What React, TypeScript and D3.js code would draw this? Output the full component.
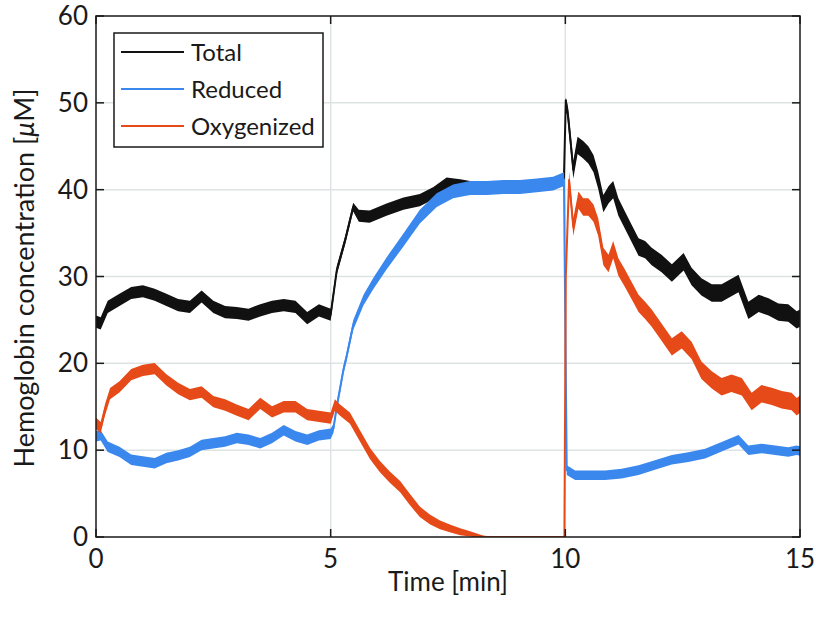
import React from "react";
import * as d3 from "d3";

// ---- data ----
const xTicks = [0, 5, 10, 15];
const yTicks = [0, 10, 20, 30, 40, 50, 60];

const totalTime = [
  0, 0.1, 0.25, 0.5, 0.75, 1, 1.25, 1.5, 1.75, 2, 2.25, 2.5, 2.75, 3, 3.25, 3.5, 3.75, 4, 4.25, 4.5, 4.75, 5,
  5.13, 5.31, 5.48, 5.6, 5.83, 6.19, 6.55, 6.9, 7.19, 7.47, 7.76, 7.97, 8.33, 8.68, 9.03, 9.39, 9.74, 9.92, 9.97,
  10.01, 10.06, 10.17, 10.26, 10.38, 10.49, 10.6, 10.7, 10.81, 10.92, 11.02, 11.13, 11.27, 11.41, 11.56, 11.7, 11.84,
  12.05, 12.27, 12.52, 12.69, 12.9, 13.12, 13.33, 13.69, 13.9, 14.12, 14.33, 14.54, 14.75, 14.93, 15,
];
const totalValue = [
  24.8, 24.6, 26.5, 27.3, 28.1, 28.3, 27.9, 27.3, 26.7, 26.5, 27.7, 26.5, 25.9, 25.8, 25.6, 26.1, 26.5, 26.7, 26.5, 25.2, 26.1, 25.6,
  30.7, 34.2, 38.0, 37.0, 36.9, 37.7, 38.4, 38.8, 39.6, 40.7, 40.5, 40.3, 40.2, 40.3, 40.3, 40.5, 40.7, 41.1, 41.2,
  50.3, 48.4, 42.3, 45.1, 44.6, 44.0, 43.0, 41.1, 38.4, 39.4, 40.0, 38.0, 36.5, 35.0, 33.4, 33.1, 32.3,
  31.5, 30.4, 31.7, 30.0, 28.8, 28.1, 28.1, 29.2, 26.1, 26.9, 26.5, 25.9, 25.8, 25.0, 25.2,
];
// half-width of the noise band (µM)
const totalSpread = [
  0.7, 0.7, 0.7, 0.7, 0.7, 0.7, 0.7, 0.7, 0.7, 0.7, 0.7, 0.7, 0.7, 0.7, 0.7, 0.7, 0.7, 0.7, 0.7, 0.7, 0.7, 0.7,
  0.5, 0.5, 0.5, 0.7, 0.7, 0.7, 0.7, 0.7, 0.7, 0.7, 0.7, 0.7, 0.7, 0.7, 0.7, 0.7, 0.7, 0.7, 0.7,
  0.3, 1.0, 1.0, 1.0, 1.0, 1.0, 1.0, 1.0, 1.0, 1.0, 1.0, 1.0, 1.0, 1.0, 1.0, 1.0, 1.0,
  1.0, 1.0, 1.0, 1.0, 1.0, 1.0, 1.0, 1.0, 1.0, 1.0, 1.0, 1.0, 1.0, 1.0, 1.0,
];

const reducedTime = [
  0, 0.1, 0.25, 0.5, 0.75, 1, 1.25, 1.5, 1.75, 2, 2.25, 2.5, 2.75, 3, 3.25, 3.5, 3.75, 4, 4.25, 4.5, 4.75, 5,
  5.06, 5.13, 5.27, 5.34, 5.48, 5.7, 5.91, 6.19, 6.55, 6.9, 7.26, 7.61, 7.97, 8.33, 8.68, 9.03, 9.39, 9.74, 9.92, 9.97,
  10.03, 10.21, 10.49, 10.85, 11.2, 11.56, 11.91, 12.27, 12.62, 12.98, 13.33, 13.69, 13.9, 14.18, 14.47, 14.75, 14.93, 15,
];
const reducedValue = [
  11.6, 11.7, 10.4, 9.8, 8.9, 8.7, 8.5, 9.1, 9.4, 9.8, 10.6, 10.8, 11.0, 11.4, 11.2, 10.8, 11.4, 12.3, 11.6, 11.2, 11.7, 11.9,
  12.5, 15.0, 19.2, 20.8, 24.4, 27.3, 29.2, 31.5, 34.2, 36.9, 38.8, 39.8, 40.2, 40.2, 40.3, 40.3, 40.5, 40.7, 41.1, 41.2,
  7.7, 7.1, 7.1, 7.1, 7.3, 7.7, 8.3, 8.9, 9.2, 9.6, 10.4, 11.2, 10.0, 10.2, 10.0, 9.8, 10.0, 9.9,
];
const reducedSpread = [
  0.6, 0.6, 0.6, 0.6, 0.6, 0.6, 0.6, 0.6, 0.6, 0.6, 0.6, 0.6, 0.6, 0.6, 0.6, 0.6, 0.6, 0.6, 0.6, 0.6, 0.6, 0.6,
  0.5, 0.5, 0.5, 0.5, 0.55, 0.6, 0.65, 0.7, 0.75, 0.8, 0.8, 0.8, 0.8, 0.8, 0.8, 0.8, 0.8, 0.8, 0.8, 0.8,
  0.55, 0.55, 0.55, 0.55, 0.55, 0.55, 0.55, 0.55, 0.55, 0.55, 0.55, 0.55, 0.55, 0.55, 0.55, 0.55, 0.55, 0.55,
];

const oxyTime = [
  0, 0.1, 0.19, 0.3, 0.5, 0.75, 1, 1.25, 1.5, 1.75, 2, 2.25, 2.5, 2.75, 3, 3.25, 3.5, 3.75, 4, 4.25, 4.5, 4.75, 5,
  5.09, 5.2, 5.41, 5.63, 5.84, 6.05, 6.26, 6.48, 6.69, 6.9, 7.12, 7.33, 7.54, 7.76, 7.97, 8.18, 8.33, 9.98,
  10.01, 10.08, 10.17, 10.28, 10.38, 10.49, 10.6, 10.7, 10.81, 10.92, 11.02, 11.13, 11.27, 11.41, 11.56, 11.7, 11.84,
  12.05, 12.27, 12.48, 12.69, 12.9, 13.12, 13.33, 13.54, 13.76, 13.97, 14.18, 14.4, 14.61, 14.82, 14.93, 15,
];
const oxyValue = [
  13.1, 12.6, 14.6, 16.5, 17.3, 18.7, 19.2, 19.4, 18.1, 17.1, 16.4, 16.7, 15.6, 15.2, 14.6, 14.1, 15.4, 14.4, 15.0, 15.0, 14.1, 13.9, 13.7,
  15.2, 14.6, 13.7, 11.6, 9.6, 8.1, 6.9, 5.8, 4.3, 2.9, 2.0, 1.4, 1.0, 0.6, 0.35, 0.1, 0, 0,
  30, 41.1, 35.7, 38.8, 38.0, 38.0, 37.3, 35.7, 32.3, 31.5, 33.1, 31.1, 29.8, 28.4, 26.9, 26.1, 25.2,
  23.6, 21.9, 22.7, 21.5, 19.2, 18.1, 17.3, 17.7, 17.3, 15.6, 16.5, 16.2, 15.8, 15.6, 15.0, 15.3,
];
const oxySpread = [
  0.65, 0.65, 0.65, 0.65, 0.65, 0.65, 0.65, 0.65, 0.65, 0.65, 0.65, 0.65, 0.65, 0.65, 0.65, 0.65, 0.65, 0.65, 0.65, 0.65, 0.65, 0.65, 0.65,
  0.65, 0.65, 0.65, 0.65, 0.65, 0.65, 0.65, 0.65, 0.65, 0.6, 0.55, 0.5, 0.45, 0.4, 0.3, 0.2, 0, 0,
  0.2, 1.0, 1.0, 1.0, 1.0, 1.0, 1.0, 1.0, 1.0, 1.0, 1.0, 1.0, 1.0, 1.0, 1.0, 1.0, 1.0,
  1.0, 1.0, 1.0, 1.0, 1.0, 1.0, 1.0, 1.0, 1.0, 1.0, 1.0, 1.0, 1.0, 1.0, 1.0, 1.0,
];

const seriesNames = ["Total", "Reduced", "Oxygenized"];
const seriesColors = ["#111111", "#3a88ee", "#e64a19"];

// ---- layout ----
const W = 816;
const H = 622;
const M = { left: 96, right: 800, top: 16, bottom: 537 };
const FONT = "Lato, 'Open Sans', sans-serif";

type Pt = { t: number; v: number; s: number };
function build(time: number[], value: number[], spread: number[]): Pt[] {
  return time.map((t, i) => ({ t, v: value[i], s: spread[i] ?? 0 }));
}

export default function App() {
  const x = d3.scaleLinear().domain([0, 15]).range([M.left, M.right]);
  const y = d3.scaleLinear().domain([0, 60]).range([M.bottom, M.top]);

  const series = [
    build(totalTime, totalValue, totalSpread),
    build(reducedTime, reducedValue, reducedSpread),
    build(oxyTime, oxyValue, oxySpread),
  ];

  const area = d3
    .area<Pt>()
    .x((d) => x(d.t))
    .y0((d) => y(d.v - d.s))
    .y1((d) => y(d.v + d.s));
  const line = d3
    .line<Pt>()
    .x((d) => x(d.t))
    .y((d) => y(d.v));

  const tickLen = 8;
  const legend = { x: 114, y: 33, w: 209, h: 114 };

  return (
    <svg
      width={W}
      height={H}
      style={{ position: "absolute", left: 0, top: 0, background: "#fff" }}
      fontFamily={FONT}
    >
      <defs>
        <clipPath id="plotclip">
          <rect x={M.left} y={M.top} width={M.right - M.left} height={M.bottom - M.top} />
        </clipPath>
      </defs>
      <rect x={0} y={0} width={W} height={H} fill="#fff" />

      {/* grid */}
      <g stroke="#dde3e3" strokeWidth={1.5}>
        {xTicks.slice(1, -1).map((t) => (
          <line key={"gx" + t} x1={x(t)} x2={x(t)} y1={M.top} y2={M.bottom} />
        ))}
        {yTicks.slice(1, -1).map((t) => (
          <line key={"gy" + t} x1={M.left} x2={M.right} y1={y(t)} y2={y(t)} />
        ))}
      </g>

      {/* data */}
      <g clipPath="url(#plotclip)">
        {series.map((pts, i) => (
          <g key={seriesNames[i]}>
            <path d={area(pts) ?? ""} fill={seriesColors[i]} stroke="none" />
            <path
              d={line(pts) ?? ""}
              fill="none"
              stroke={seriesColors[i]}
              strokeWidth={2}
              strokeLinejoin="round"
            />
          </g>
        ))}
      </g>

      {/* axes box */}
      <rect
        x={M.left}
        y={M.top}
        width={M.right - M.left}
        height={M.bottom - M.top}
        fill="none"
        stroke="#1a1a1a"
        strokeWidth={1.5}
      />

      {/* ticks */}
      <g stroke="#1a1a1a" strokeWidth={1.5}>
        {xTicks.map((t) => (
          <g key={"tx" + t}>
            <line x1={x(t)} x2={x(t)} y1={M.bottom} y2={M.bottom - tickLen} />
            <line x1={x(t)} x2={x(t)} y1={M.top} y2={M.top + tickLen} />
          </g>
        ))}
        {yTicks.map((t) => (
          <g key={"ty" + t}>
            <line x1={M.left} x2={M.left + tickLen} y1={y(t)} y2={y(t)} />
            <line x1={M.right} x2={M.right - tickLen} y1={y(t)} y2={y(t)} />
          </g>
        ))}
      </g>

      {/* tick labels */}
      <g fill="#1a1a1a" fontSize={26}>
        {xTicks.map((t) => (
          <text key={"lx" + t} x={x(t)} y={M.bottom + 31} textAnchor="middle">
            {t}
          </text>
        ))}
        {yTicks.map((t) => (
          <text key={"ly" + t} x={M.left - 8} y={y(t)} dy="0.35em" textAnchor="end">
            {t}
          </text>
        ))}
      </g>

      {/* axis titles */}
      <text x={448} y={591} textAnchor="middle" fontSize={26} fill="#1a1a1a">
        Time [min]
      </text>
      <text
        transform={`translate(34, 278) rotate(-90)`}
        textAnchor="middle"
        fontSize={27}
        fill="#1a1a1a"
      >
        Hemoglobin concentration [<tspan fontStyle="italic">μ</tspan>M]
      </text>

      {/* legend */}
      <g>
        <rect
          x={legend.x}
          y={legend.y}
          width={legend.w}
          height={legend.h}
          fill="#fff"
          stroke="#1a1a1a"
          strokeWidth={1.5}
        />
        {seriesNames.map((name, i) => {
          const cy = legend.y + 19 + i * 37;
          return (
            <g key={"lg" + name}>
              <line x1={legend.x + 7} x2={legend.x + 70} y1={cy} y2={cy} stroke={seriesColors[i]} strokeWidth={2} />
              <text x={legend.x + 77} y={cy} dy="0.36em" fontSize={24} fill="#1a1a1a">
                {name}
              </text>
            </g>
          );
        })}
      </g>
    </svg>
  );
}
